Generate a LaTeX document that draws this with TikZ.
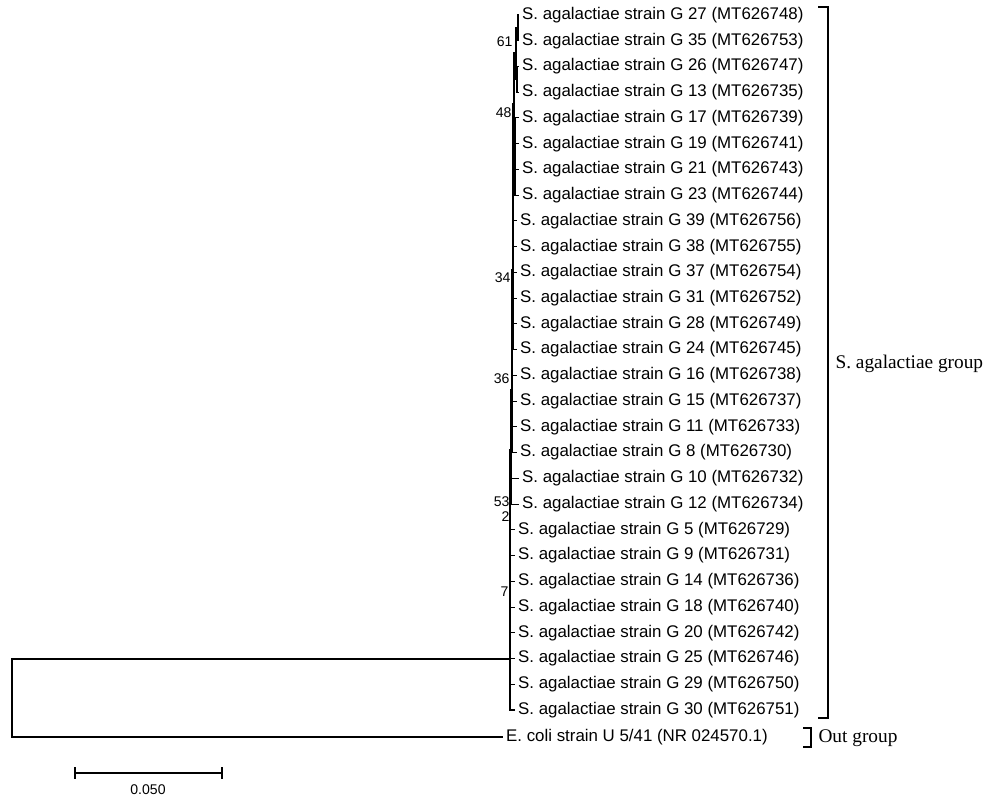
\documentclass[tikz,border=0pt]{standalone}
\usepackage{fontspec}
\setmainfont{Liberation Sans}
\newfontfamily\grpfont{Liberation Serif}

\begin{document}
\begin{tikzpicture}[x=0.02cm, y=-0.02cm, line width=0.6pt]
  \tikzstyle{every node} = [inner sep = 0pt]
  \tikzstyle{taxon} = [anchor = west, inner sep = 1.5pt,
                       font = \fontsize{9.6}{11}\selectfont]
  \tikzstyle{boot} = [anchor = east, font = \fontsize{8}{9}\selectfont]
  \tikzstyle{group} = [anchor = west, font = \grpfont\fontsize{11}{13}\selectfont]
\useasboundingbox (0,0) rectangle (1000,805);

% leaves
\foreach \k/\sid/\ac/\tx in {1/27/MT626748/519, 2/35/MT626753/519,
    3/26/MT626747/519, 4/13/MT626735/519, 5/17/MT626739/519,
    6/19/MT626741/519, 7/21/MT626743/519, 8/23/MT626744/519,
    9/39/MT626756/517, 10/38/MT626755/517, 11/37/MT626754/517,
    12/31/MT626752/517, 13/28/MT626749/517, 14/24/MT626745/517,
    15/16/MT626738/517, 16/15/MT626737/517, 17/11/MT626733/517,
    18/8/MT626730/517, 19/10/MT626732/519, 20/12/MT626734/519,
    21/5/MT626729/515, 22/9/MT626731/515, 23/14/MT626736/515,
    24/18/MT626740/515, 25/20/MT626742/515, 26/25/MT626746/515,
    27/29/MT626750/515, 28/30/MT626751/515}{
  \coordinate (L\k) at (\tx,{15+(\k-1)*25.74});
  \node[taxon] (T\k) at (L\k) {S. agalactiae strain G \sid\ (\ac)};
}
\coordinate (E) at (503,737);
\node[taxon] (TE) at (E) {E. coli strain U 5/41 (NR 024570.1)};

% internal nodes
\coordinate (nA) at (518,28);
\coordinate (nB) at (517,79);
\coordinate (n61) at (516,53);
\coordinate (nC) at (515,155);
\coordinate (n48) at (514,104);
\coordinate (n34) at (513,270);
\coordinate (n36) at (512,390);
\coordinate (n2) at (511,490);
\coordinate (n53) at (511,450);
\coordinate (n7) at (510,659);
\coordinate (R) at (12,698);

\foreach \c in {L1,L2} \draw (nA) |- (\c);
\foreach \c in {L3,L4} \draw (nB) |- (\c);
\foreach \c in {nA,nB} \draw (n61) |- (\c);
\foreach \c in {L5,L6,L7,L8} \draw (nC) |- (\c);
\foreach \c in {n61,nC} \draw (n48) |- (\c);
\foreach \c in {n48,L9,L10,L11,L12,L13,L14} \draw (n34) |- (\c);
\foreach \c in {n34,L15,L16,L17,L18} \draw (n36) |- (\c);
\foreach \c in {L19,L20} \draw (n2) |- (\c);
\foreach \c in {n36,n2} \draw (n53) |- (\c);
\foreach \c in {n53,L21,L22,L23,L24,L25,L26,L27,L28} \draw (n7) |- (\c);
\draw (R) |- (n7);
\draw (R) |- (E);

% bootstrap values
\node[boot] (b61) at (513,42) {61};
\node[boot] (b48) at (512,113) {48};
\node[boot] (b34) at (511,278) {34};
\node[boot] (b36) at (510,379) {36};
\node[boot] (b53) at (510,502) {53};
\node[boot] (b2) at (510,517) {2};
\node[boot] (b7) at (509,592) {7};

% groups
\draw (818,7) -- (828,7) -- (828,718) -- (818,718);
\node[group] (gS) at (835,364) {S. agalactiae group};
\draw (803,728) -- (811,728) -- (811,747) -- (803,747);
\node[group] (gO) at (818,738) {Out group};

% scale bar
\draw (75,773) -- (222,773);
\draw (75,767) -- (75,779);
\draw (222,767) -- (222,779);
\node[font=\fontsize{8}{9}\selectfont] (sc) at (148,790) {0.050};

\end{tikzpicture}
\end{document}
